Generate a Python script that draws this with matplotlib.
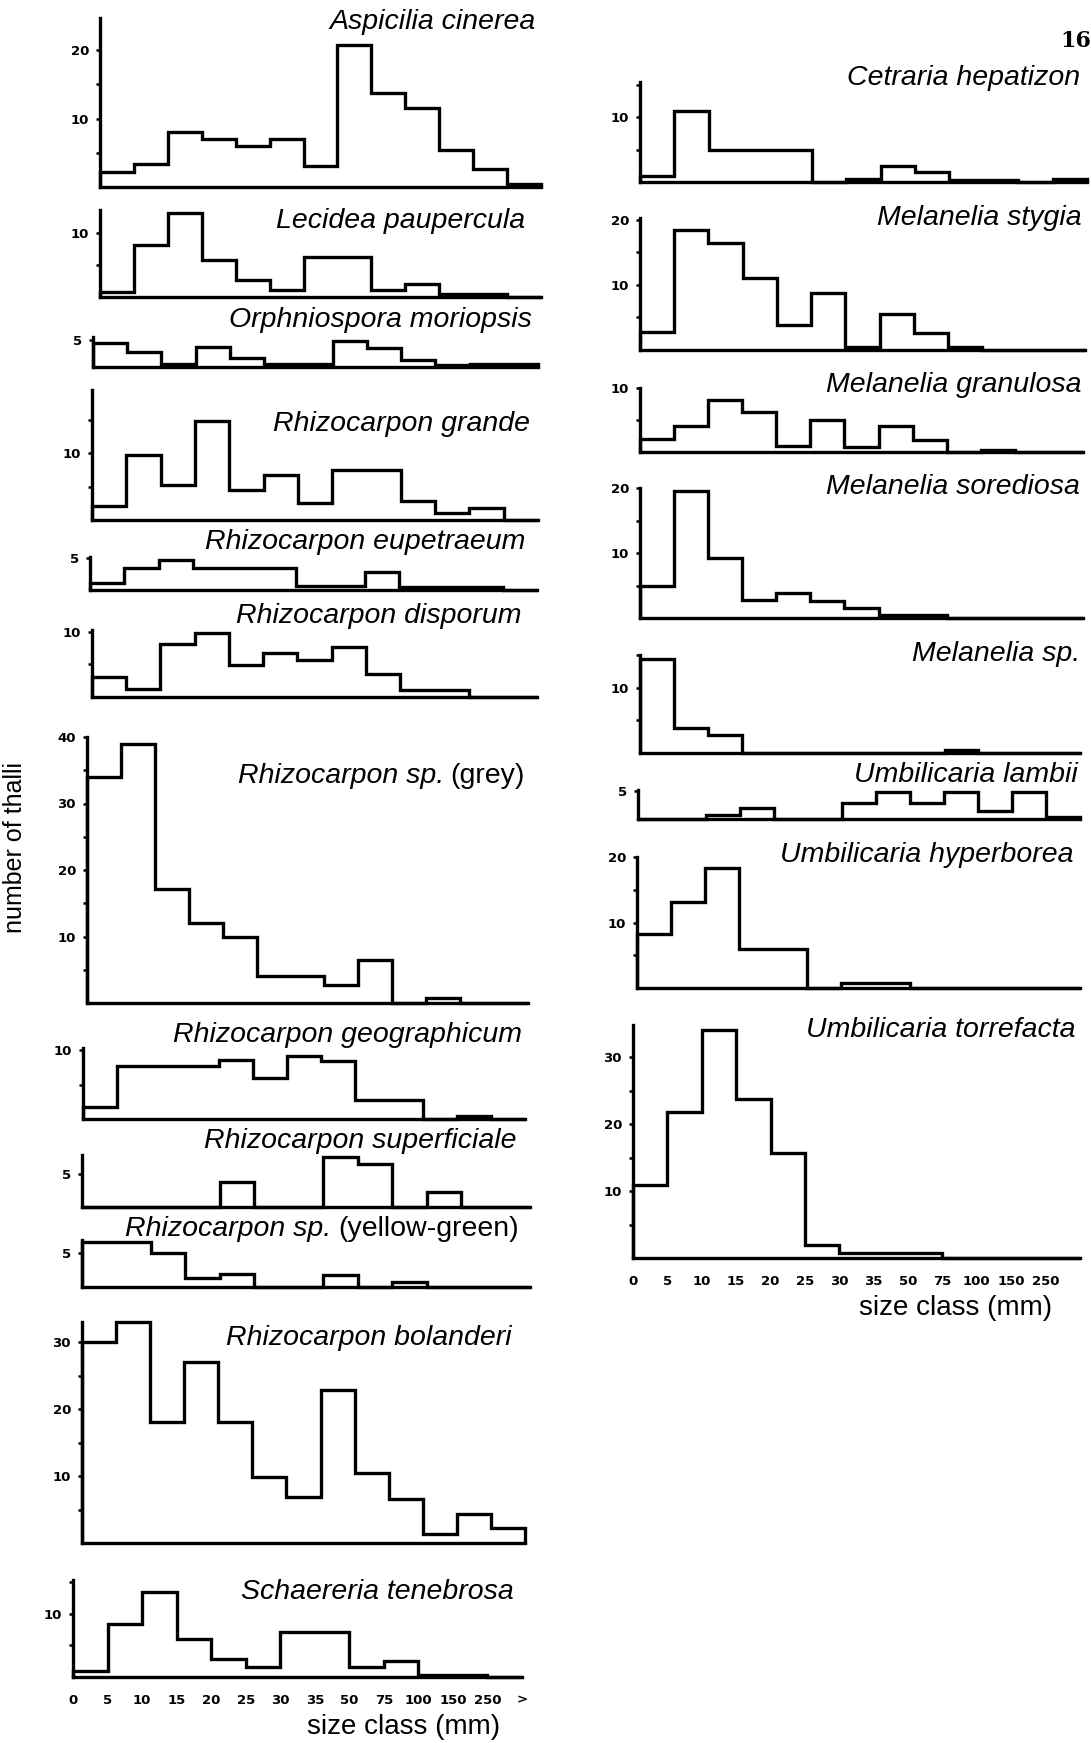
import matplotlib
matplotlib.use("Agg")
import matplotlib.pyplot as plt
import numpy as np

# ---------------- data (number of thalli per size class) ----------------
size_labels = ["0", "5", "10", "15", "20", "25", "30", "35", "50", "75",
               "100", "150", "250", ">"]

aspicilia_cinerea = [2.2, 3.4, 8, 7, 6, 7, 3, 20.7, 13.7, 11.5, 5.4, 2.7, 0.5]
lecidea_paupercula = [0.8, 8.2, 13.2, 5.8, 2.6, 1.1, 6.3, 6.3, 1.1, 2.1, 0.4, 0.4, 0]
orphniospora_moriopsis = [4.4, 2.8, 0.5, 3.6, 1.6, 0.6, 0.6, 4.7, 3.4, 1.2, 0.3, 0.6, 0.6]
rhizocarpon_grande = [2.1, 9.8, 5.3, 14.8, 4.5, 6.8, 2.5, 7.5, 7.5, 2.8, 1, 1.8, 0]
rhizocarpon_eupetraeum = [1.1, 3.4, 4.8, 3.5, 3.4, 3.4, 0.6, 0.6, 2.8, 0.5, 0.5, 0.5, 0]
rhizocarpon_disporum = [3, 1.3, 8.2, 9.8, 4.9, 6.7, 5.7, 7.7, 3.6, 1, 1, 0, 0]
rhizocarpon_grey = [34, 39, 17.2, 12, 10, 4, 4, 2.7, 6.5, 0, 0.8, 0, 0]
rhizocarpon_geographicum = [1.8, 7.7, 7.7, 7.7, 8.6, 6, 9.1, 8.4, 2.8, 2.8, 0, 0.5, 0]
rhizocarpon_superficiale = [0, 0, 0, 0, 3.8, 0, 0, 7.5, 6.5, 0, 2.3, 0, 0]
rhizocarpon_yellowgreen = [6.7, 6.7, 5, 1.3, 1.9, 0, 0, 1.8, 0, 0.7, 0, 0, 0]
rhizocarpon_bolanderi = [30, 33, 18, 27, 18, 9.8, 6.8, 22.8, 10.5, 6.5, 1.3, 4.3, 2.3]
schaereria_tenebrosa = [1, 8.4, 13.4, 6, 2.9, 1.6, 7.1, 7.1, 1.6, 2.6, 0.3, 0.3, 0]

cetraria_hepatizon = [1, 11, 5, 5, 5, 0, 0.5, 2.5, 1.5, 0.3, 0.3, 0, 0.5]
melanelia_stygia = [2.8, 18.5, 16.5, 11, 3.8, 8.7, 0.5, 5.6, 2.6, 0.4, 0, 0, 0]
melanelia_granulosa = [2, 4, 8.2, 6.3, 0.9, 5, 0.8, 4, 1.8, 0, 0.3, 0, 0]
melanelia_sorediosa = [4.9, 19.5, 9.2, 2.8, 3.8, 2.6, 1.5, 0.5, 0.5, 0, 0, 0, 0]
melanelia_sp = [14.4, 3.8, 2.8, 0, 0, 0, 0, 0, 0, 0.5, 0, 0, 0]
umbilicaria_lambii = [0, 0, 0.7, 1.9, 0, 0, 2.8, 4.9, 2.8, 4.9, 1.5, 4.9, 0.3]
umbilicaria_hyperborea = [8.3, 13.2, 18.3, 6, 6, 0, 0.7, 0.7, 0, 0, 0, 0, 0]
umbilicaria_torrefacta = [10.9, 21.8, 34, 23.8, 15.7, 2, 0.8, 0.8, 0.8, 0, 0, 0, 0]

# ---------------- layout (figure pixels) ----------------
# (values, italic title, upright suffix, x0, x1, baseline_y, top_y, ymax,
#  major ticks, title right x, title y, n x-labels)
W, H = 1091, 1743
panels = [
    (aspicilia_cinerea, "Aspicilia cinerea", "", 100, 541, 187, 18, 24.7, [10, 20], 536, 22, 0),
    (lecidea_paupercula, "Lecidea paupercula", "", 100, 541, 297, 210, 13.7, [10], 525, 221, 0),
    (orphniospora_moriopsis, "Orphniospora moriopsis", "", 93, 538, 367, 337, 5.5, [5], 532, 320, 0),
    (rhizocarpon_grande, "Rhizocarpon grande", "", 92, 538, 520, 390, 19.5, [10], 530, 424, 0),
    (rhizocarpon_eupetraeum, "Rhizocarpon eupetraeum", "", 90, 537, 590, 557, 5.2, [5], 525, 542, 0),
    (rhizocarpon_disporum, "Rhizocarpon disporum", "", 92, 537, 697, 630, 10.3, [10], 522, 616, 0),
    (rhizocarpon_grey, "Rhizocarpon sp.", "(grey)", 87, 528, 1003, 737, 40, [10, 20, 30, 40], 525, 776, 0),
    (rhizocarpon_geographicum, "Rhizocarpon geographicum", "", 83, 525, 1119, 1048, 10.3, [10], 522, 1035, 0),
    (rhizocarpon_superficiale, "Rhizocarpon superficiale", "", 82, 530, 1207, 1155, 7.8, [5], 517, 1141, 0),
    (rhizocarpon_yellowgreen, "Rhizocarpon sp.", "(yellow-green)", 82, 530, 1287, 1240, 7, [5], 519, 1229, 0),
    (rhizocarpon_bolanderi, "Rhizocarpon bolanderi", "", 82, 525, 1543, 1322, 33, [10, 20, 30], 512, 1338, 0),
    (schaereria_tenebrosa, "Schaereria tenebrosa", "", 73, 522, 1677, 1580, 15.3, [10], 514, 1592, 14),
    (cetraria_hepatizon, "Cetraria hepatizon", "", 640, 1087, 182, 82, 15.4, [10], 1080, 78, 0),
    (melanelia_stygia, "Melanelia stygia", "", 640, 1085, 350, 218, 20.3, [10, 20], 1082, 218, 0),
    (melanelia_granulosa, "Melanelia granulosa", "", 640, 1083, 452, 388, 10, [10], 1082, 385, 0),
    (melanelia_sorediosa, "Melanelia sorediosa", "", 640, 1083, 618, 488, 20, [10, 20], 1080, 487, 0),
    (melanelia_sp, "Melanelia sp.", "", 640, 1080, 753, 655, 15, [10], 1080, 654, 0),
    (umbilicaria_lambii, "Umbilicaria lambii", "", 638, 1080, 819, 790, 5.2, [5], 1078, 775, 0),
    (umbilicaria_hyperborea, "Umbilicaria hyperborea", "", 637, 1080, 988, 857, 20, [10, 20], 1074, 855, 0),
    (umbilicaria_torrefacta, "Umbilicaria torrefacta", "", 633, 1080, 1258, 1025, 34.8, [10, 20, 30], 1076, 1030, 13),
]

LW = 2.4
TITLE_FS = 20.5
FONT = "Liberation Sans"

fig = plt.figure(figsize=(W / 100, H / 100), dpi=100)
renderer = fig.canvas.get_renderer()

for (vals, title, suffix, x0, x1, base, top, ymax, majors, tx, ty, nxl) in panels:
    ax = fig.add_axes([x0 / W, 1 - base / H, (x1 - x0) / W, (base - top) / H])
    ax.patch.set_alpha(0)
    edges = np.arange(len(vals) + 1)
    st = ax.stairs(vals, edges, baseline=0, fill=False, color="black", lw=LW)
    st.set_clip_on(False)
    ax.set_xlim(0, len(vals))
    ax.set_ylim(0, ymax)
    for s in ["top", "right"]:
        ax.spines[s].set_visible(False)
    for s in ["left", "bottom"]:
        ax.spines[s].set_linewidth(LW)
        ax.spines[s].set_capstyle("projecting")
    minors = [v for v in range(5, int(ymax) + 1, 5) if v not in majors]
    ax.set_yticks(majors)
    ax.set_yticklabels([str(m) for m in majors], fontweight="bold",
                       family="DejaVu Sans", fontsize=9.5)
    ax.set_yticks(minors, minor=True)
    ax.tick_params(axis="y", which="both", direction="out", length=3,
                   width=1.8, pad=5)
    if nxl:
        ax.set_xticks(np.arange(nxl))
        ax.set_xticklabels(size_labels[:nxl], fontweight="bold",
                           family="DejaVu Sans", fontsize=9.5)
        ax.tick_params(axis="x", length=0, pad=12)
    else:
        ax.set_xticks([])

    # titles
    xr = tx / W
    yy = 1 - ty / H
    if suffix:
        t2 = fig.text(xr, yy, suffix, ha="right", va="center",
                      fontsize=TITLE_FS, family=FONT)
        bb = t2.get_window_extent(renderer)
        fig.text((bb.x0 - 7) / W, yy, title, ha="right", va="center",
                 fontsize=TITLE_FS, family=FONT, style="italic")
    else:
        fig.text(xr, yy, title, ha="right", va="center",
                 fontsize=TITLE_FS, family=FONT, style="italic")

# axis labels
fig.text(404 / W, 1 - 1727 / H, "size class (mm)", ha="center", va="center",
         fontsize=20, family=FONT)
fig.text(956 / W, 1 - 1308 / H, "size class (mm)", ha="center", va="center",
         fontsize=20, family=FONT)
fig.text(15 / W, 1 - 848 / H, "number of thalli", ha="center", va="center",
         rotation=90, fontsize=18, family=FONT)
fig.text(1091 / W, 1 - 41 / H, "16", ha="right", va="center",
         fontsize=16, fontweight="bold", family="DejaVu Serif")

fig.savefig("out.png", dpi=100, facecolor="white")
